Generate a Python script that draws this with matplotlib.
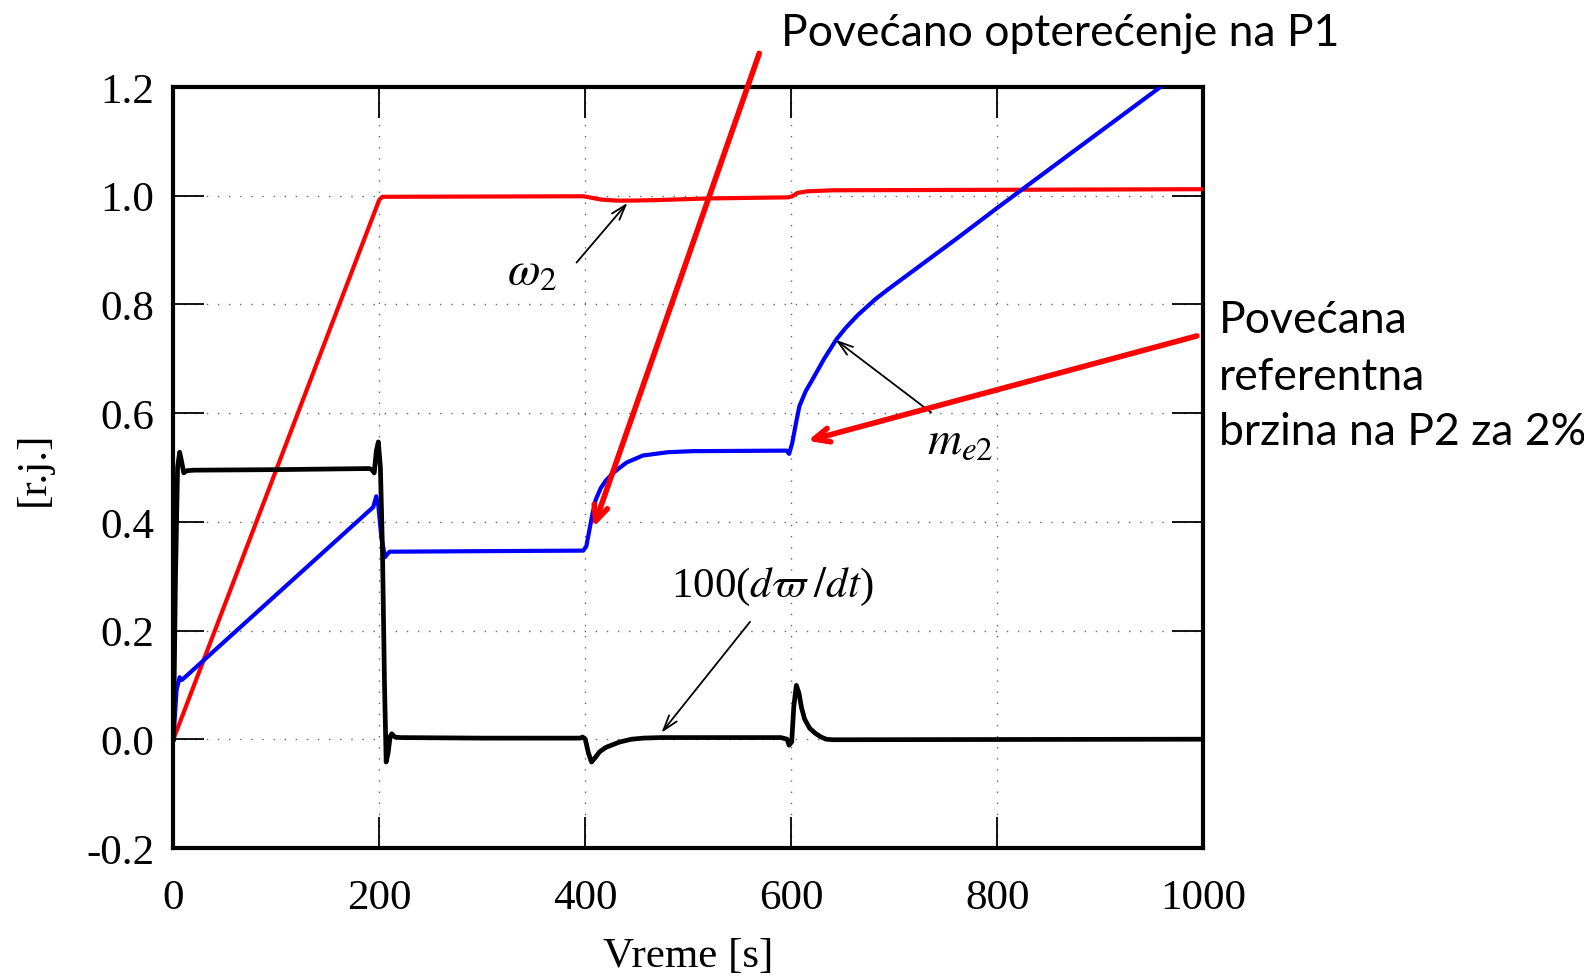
import matplotlib.pyplot as plt

# omega_2 (speed of P2)
t_w2 = [0, 200, 203, 398, 404, 415, 430, 445, 470, 520, 597, 601, 606, 615, 640, 1000]
w2 = [0, 0.993, 0.998, 0.999, 0.997, 0.993, 0.991, 0.991, 0.992, 0.995, 0.997, 0.999, 1.005, 1.008, 1.010, 1.012]

# m_e2 (electromagnetic torque of P2)
t_me2 = [0, 3, 6, 8, 10, 194, 197, 199, 202, 205.6, 208, 210, 300, 398, 401,
         404, 407, 410, 415, 420, 427, 440, 456, 480, 504, 595.5, 598, 601, 605, 608,
         614, 621, 632, 644, 653, 665, 682, 695, 720, 760, 799, 873, 960]
me2 = [0, 0.09, 0.114, 0.109, 0.112, 0.427, 0.447, 0.43, 0.37, 0.335, 0.341,
       0.345, 0.346, 0.347, 0.355, 0.385, 0.415, 0.44, 0.462, 0.476, 0.490, 0.509, 0.522,
       0.528, 0.530, 0.531, 0.525, 0.545, 0.585, 0.613, 0.640, 0.663, 0.700, 0.736, 0.757,
       0.781, 0.810, 0.829, 0.864, 0.920, 0.976, 1.080, 1.202]

# 100*(d omega / dt)
t_dw = [0, 2, 4, 6, 8, 10, 13, 20, 100, 190, 193, 195, 197, 199, 201, 203, 205, 206.6,
        208.5, 210.5, 212, 215, 220, 300, 395, 397.4, 400, 403, 406, 410, 414, 420, 433.6,
        445, 456, 472, 590, 596, 598, 600.5, 602.5, 605, 607.5, 610, 613, 618, 624, 629,
        634, 640, 1000]
dw = [0, 0.30, 0.50, 0.528, 0.51, 0.49, 0.494, 0.495, 0.496, 0.498, 0.496, 0.49, 0.53,
      0.547, 0.50, 0.35, 0.10, -0.042, -0.025, 0.005, 0.010, 0.004, 0.003, 0.002, 0.002,
      0.004, 0.0, -0.025, -0.042, -0.033, -0.023, -0.015, -0.005, 0.0, 0.002, 0.003,
      0.003, 0.0, -0.011, -0.005, 0.06, 0.099, 0.085, 0.058, 0.037, 0.020, 0.010, 0.004,
      0.0, -0.001, 0.0]

x_ticks = [0, 200, 400, 600, 800, 1000]
y_ticks = [-0.2, 0.0, 0.2, 0.4, 0.6, 0.8, 1.0, 1.2]

serif = 'Liberation Serif'

fig = plt.figure(figsize=(15.84, 9.78), dpi=100)
ax = fig.add_axes([0.1095, 0.132, 0.650, 0.778])

ax.plot(t_w2, w2, color='red', lw=3, zorder=3)
ax.plot(t_me2, me2, color='blue', lw=3, zorder=3)
ax.plot(t_dw, dw, color='black', lw=3.4, zorder=3)

ax.set_xlim(0, 1000)
ax.set_ylim(-0.2, 1.2)
ax.set_xticks(x_ticks)
ax.set_yticks(y_ticks)
ax.set_xticklabels([str(v) for v in x_ticks])
ax.set_yticklabels(['%.1f' % v for v in y_ticks])
ax.grid(True, color='#666666', lw=1.0, linestyle=(0, (1, 7)))

for s in ax.spines.values():
    s.set_linewidth(3)
ax.tick_params(direction='in', length=22, width=1.3, top=True, right=True,
               labelsize=31)
ax.tick_params(axis='x', pad=22)
ax.tick_params(axis='y', pad=14)
for lab in ax.get_xticklabels() + ax.get_yticklabels():
    lab.set_family(serif)

ax.set_xlabel('Vreme [s]', family=serif, fontsize=31, labelpad=14)
ax.set_ylabel('[r.j.]', family=serif, fontsize=31, labelpad=24)

# thin black pointers to the curves
thin = dict(arrowstyle='->,head_length=1.1,head_width=0.35', color='black', lw=1.3,
            shrinkA=0, shrinkB=0)
ax.annotate('', xy=(441, 0.987), xytext=(391.5, 0.877), arrowprops=thin, zorder=4)
ax.annotate('', xy=(643, 0.735), xytext=(736, 0.601), arrowprops=thin, zorder=4)
ax.annotate('', xy=(474, 0.012), xytext=(560, 0.216), arrowprops=thin, zorder=4)

ax.text(348, 0.862, r'$\omega_2$', fontsize=34, ha='center', va='center',
        math_fontfamily='stix')
ax.text(764, 0.550, r'$m_{e2}$', fontsize=34, ha='center', va='center',
        math_fontfamily='stix')
ax.text(582, 0.282, r'100($d\varpi\;/dt$)', fontsize=31, ha='center', va='center',
        family=serif, math_fontfamily='stix')

# red event arrows
thick = dict(arrowstyle='->,head_length=1.1,head_width=0.5', color='red', lw=4,
             shrinkA=0, shrinkB=0)
ax.annotate('', xy=(408, 0.39), xytext=(569, 1.262), arrowprops=thick,
            annotation_clip=False, zorder=5)
ax.annotate('', xy=(616, 0.549), xytext=(994, 0.742), arrowprops=thick,
            annotation_clip=False, zorder=5)

fig.text(781 / 1584, 1 - 46 / 978, 'Povećano opterećenje na P1', family='Lato',
         fontsize=32, ha='left', va='baseline')
fig.text(1219 / 1584, 1 - 333 / 978, 'Povećana', family='Lato', fontsize=32,
         ha='left', va='baseline')
fig.text(1219 / 1584, 1 - 390 / 978, 'referentna', family='Lato', fontsize=32,
         ha='left', va='baseline')
fig.text(1219 / 1584, 1 - 445 / 978, 'brzina na P2 za 2%', family='Lato', fontsize=32,
         ha='left', va='baseline')

fig.savefig('out.png', dpi=100)
